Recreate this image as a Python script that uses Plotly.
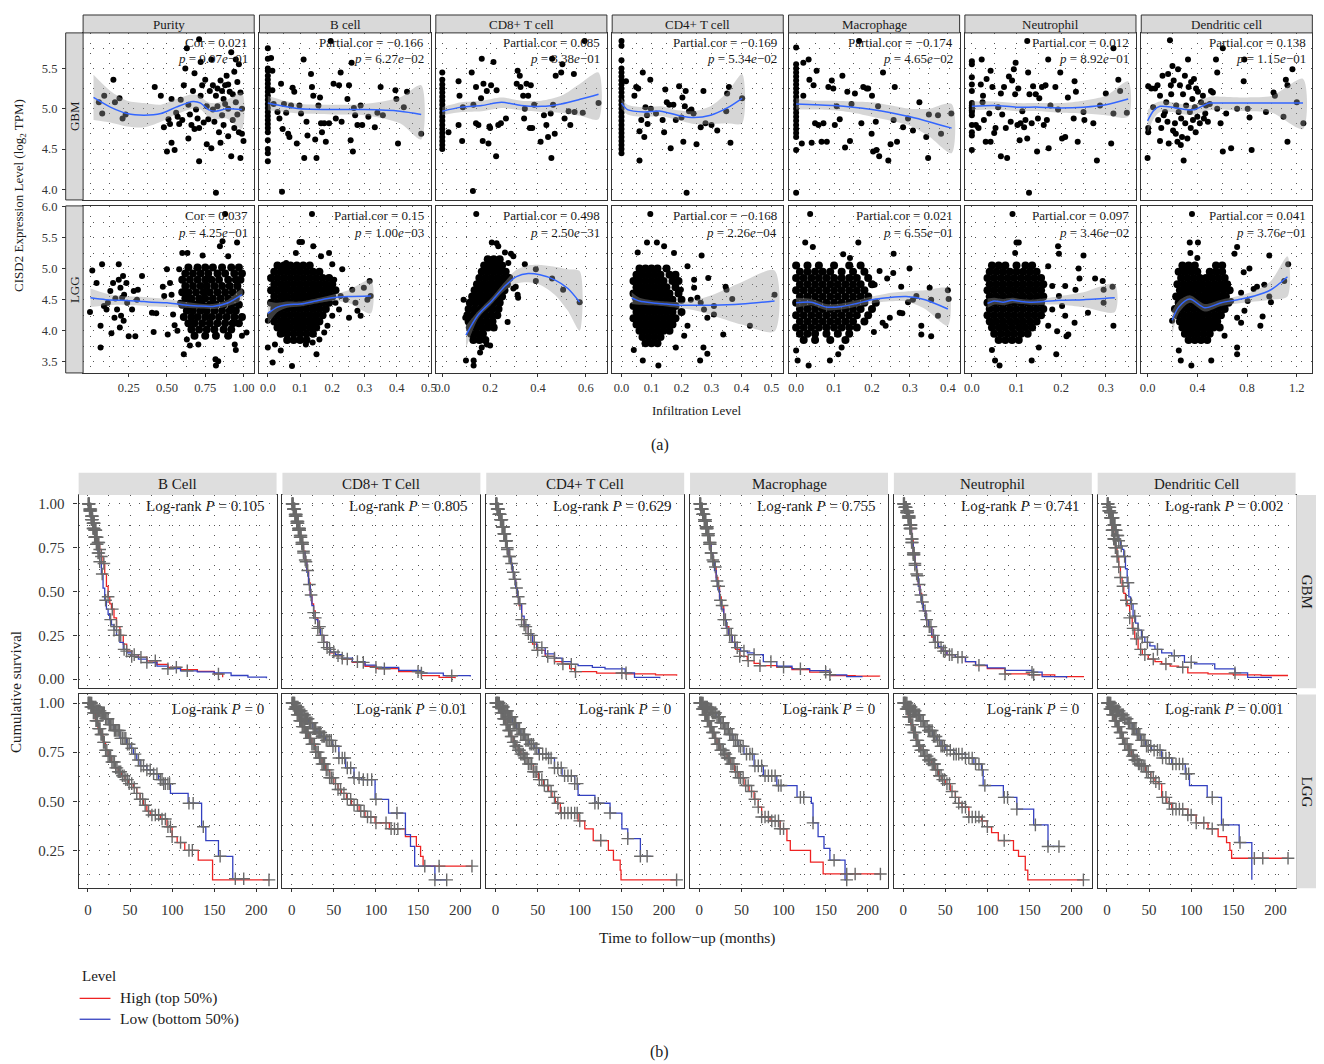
import plotly.graph_objects as go

# The page body adds an 8px margin; the figure is drawn 8px smaller and every
# reference pixel position is shifted by OFF so the picture lines up with the window.
OFF = 8
W, H = 1316, 1056
FONT = "Liberation Serif, DejaVu Serif, Times New Roman, serif"
INK = "#1a1a1a"
TICK = "#333333"
FRAME = "#333333"
GRID = "#555555"
DASH = "1px,9px"

# ---------------- (a) correlation scatter panels ----------------
cell_cols = ["Purity", "B cell", "CD8+ T cell", "CD4+ T cell", "Macrophage", "Neutrophil", "Dendritic cell"]
gbm_cor = ["Cor = 0.021", "Partial.cor = −0.166", "Partial.cor = 0.085", "Partial.cor = −0.169",
           "Partial.cor = −0.174", "Partial.cor = 0.012", "Partial.cor = 0.138"]
gbm_p = ["9.07e−01", "6.27e−02", "3.38e−01", "5.34e−02", "4.65e−02", "8.92e−01", "1.15e−01"]
lgg_cor = ["Cor = 0.037", "Partial.cor = 0.15", "Partial.cor = 0.498", "Partial.cor = −0.168",
           "Partial.cor = 0.021", "Partial.cor = 0.097", "Partial.cor = 0.041"]
lgg_p = ["4.25e−01", "1.00e−03", "2.50e−31", "2.26e−04", "6.55e−01", "3.46e−02", "3.76e−01"]

col_xrange = [[-0.048, 1.07], [-0.026, 0.505], [-0.027, 0.688], [-0.031, 0.539],
              [-0.02, 0.431], [-0.0156, 0.3675], [-0.051, 1.325]]
col_xticks = [[0.25, 0.5, 0.75, 1.0], [0, 0.1, 0.2, 0.3, 0.4, 0.5], [0, 0.2, 0.4, 0.6],
              [0, 0.1, 0.2, 0.3, 0.4, 0.5], [0, 0.1, 0.2, 0.3, 0.4], [0, 0.1, 0.2, 0.3], [0, 0.4, 0.8, 1.2]]
col_xlabels = [["0.25", "0.50", "0.75", "1.00"], ["0.0", "0.1", "0.2", "0.3", "0.4", "0.5"],
               ["0.0", "0.2", "0.4", "0.6"], ["0.0", "0.1", "0.2", "0.3", "0.4", "0.5"],
               ["0.0", "0.1", "0.2", "0.3", "0.4"], ["0.0", "0.1", "0.2", "0.3"], ["0.0", "0.4", "0.8", "1.2"]]
col_xminor = [[0.0, 0.125, 0.375, 0.625, 0.875], [0.05, 0.15, 0.25, 0.35, 0.45], [0.1, 0.3, 0.5],
              [0.05, 0.15, 0.25, 0.35, 0.45], [0.05, 0.15, 0.25, 0.35], [0.05, 0.15, 0.25, 0.35],
              [0.2, 0.6, 1.0]]
gbm_yticks = [4.0, 4.5, 5.0, 5.5]
gbm_ylabels = ["4.0", "4.5", "5.0", "5.5"]
gbm_yminor = [4.25, 4.75, 5.25, 5.75]
lgg_yticks = [3.5, 4.0, 4.5, 5.0, 5.5, 6.0]
lgg_ylabels = ["3.5", "4.0", "4.5", "5.0", "5.5", "6.0"]
lgg_yminor = [3.75, 4.25, 4.75, 5.25, 5.75]

# GBM points (infiltration, expression)
gbm_purity_pts = [(0.055,5.08),(0.077,4.94),(0.09,5.16),(0.15,5.36),(0.16,5.08),(0.19,5.13),(0.21,4.88),(0.23,4.93),
    (0.42,5.27),(0.46,5.16),(0.48,4.77),(0.50,4.47),(0.51,4.87),(0.52,4.81),(0.53,4.58),(0.53,5.12),(0.55,4.49),
    (0.56,4.95),(0.57,4.90),(0.59,5.11),(0.58,4.81),(0.61,5.29),(0.62,5.5),(0.63,5.75),(0.64,4.63),(0.65,4.93),
    (0.66,4.80),(0.67,5.22),(0.68,4.75),(0.68,5.44),(0.69,4.99),(0.70,4.88),(0.71,4.35),(0.71,4.76),(0.72,5.16),
    (0.72,5.58),(0.73,5.29),(0.75,5.36),(0.76,4.56),(0.76,5.03),(0.77,4.87),(0.78,5.22),(0.79,5.61),(0.79,4.51),
    (0.80,4.99),(0.80,5.29),(0.81,4.84),(0.82,3.96),(0.82,5.16),(0.83,5.03),(0.84,4.71),(0.85,5.35),(0.85,4.58),
    (0.86,4.92),(0.86,5.22),(0.87,4.80),(0.88,5.06),(0.88,5.29),(0.89,5.41),(0.90,4.66),(0.90,5.0),(0.91,5.21),
    (0.92,4.41),(0.92,5.70),(0.93,4.86),(0.94,5.46),(0.94,4.76),(0.95,5.08),(0.96,5.33),(0.96,4.93),(0.97,5.55),
    (0.97,4.71),(0.98,4.39),(0.98,5.20),(0.99,5.0),(0.99,4.69),(1.0,4.60),(0.71,5.86),(0.95,5.61),(0.74,4.83),
    (0.83,5.25),(0.87,5.12),(0.9,5.3),(0.93,5.18),(0.64,5.05),(0.60,4.86)]
gbm_bcell_pts = [(0,5.75),(0,5.62),(0,5.5),(0,5.47),(0,5.41),(0,5.36),(0,5.31),(0,5.26),(0,5.21),(0,5.16),(0,5.11),
    (0,5.06),(0,5.01),(0,4.96),(0,4.91),(0,4.86),(0,4.81),(0,4.76),(0,4.71),(0,4.61),(0,4.5),(0,4.45),(0,4.35),
    (0.01,5.63),(0.014,5.47),(0.014,5.23),(0.018,5.06),(0.03,4.96),(0.036,4.88),(0.044,3.97),(0.046,4.75),(0.041,5.31),
    (0.05,5.06),(0.057,4.95),(0.063,4.69),(0.067,4.65),(0.072,5.04),(0.077,5.26),(0.082,5.21),(0.09,4.57),(0.098,5.04),
    (0.103,4.94),(0.111,5.61),(0.113,4.39),(0.12,4.84),(0.123,4.67),(0.134,5.43),(0.137,5.27),(0.141,5.16),(0.147,4.62),
    (0.151,4.39),(0.157,5.04),(0.162,5.14),(0.165,4.82),(0.168,4.71),(0.175,4.82),(0.18,4.59),(0.19,4.82),(0.195,5.84),
    (0.204,5.31),(0.211,4.88),(0.221,5.29),(0.226,5.45),(0.229,4.84),(0.247,5.12),(0.252,5.29),(0.257,4.61),(0.26,5.57),
    (0.264,4.47),(0.267,5.01),(0.271,4.92),(0.278,4.8),(0.288,5.04),(0.293,4.8),(0.312,4.9),(0.332,4.77),(0.34,4.95),
    (0.35,5.27),(0.357,4.92),(0.396,5.23),(0.399,5.12),(0.404,4.57),(0.422,5.02),(0.432,5.21),(0.476,4.69)]
gbm_cd8_pts = [(0,5.45),(0,5.36),(0,5.3),(0,5.25),(0,5.2),(0,5.15),(0,5.1),(0,5.05),(0,5.0),(0,4.95),(0,4.9),(0,4.85),
    (0,4.8),(0,4.75),(0,4.7),(0,4.65),(0,4.6),(0,4.55),(0,4.5),
    (0.026,4.71),(0.068,5.34),(0.072,5.16),(0.068,4.8),(0.083,4.6),(0.086,5.02),(0.123,5.45),(0.128,3.98),(0.13,5.05),
    (0.141,5.27),(0.141,4.82),(0.151,4.8),(0.162,5.13),(0.165,5.62),(0.169,4.6),(0.172,5.31),(0.186,5.22),(0.193,4.57),
    (0.197,4.78),(0.2,4.76),(0.204,5.29),(0.214,5.58),(0.225,4.41),(0.227,5.23),(0.234,4.8),(0.245,4.82),(0.266,4.88),
    (0.311,5.31),(0.315,5.47),(0.324,5.41),(0.327,5.27),(0.338,5.16),(0.342,4.88),(0.345,5.0),(0.352,5.31),(0.359,5.16),
    (0.366,4.76),(0.37,5.29),(0.376,4.76),(0.384,5.05),(0.411,4.59),(0.425,4.92),(0.435,4.8),(0.442,4.65),(0.453,4.94),
    (0.456,4.39),(0.459,5.62),(0.463,5.05),(0.47,4.69),(0.474,5.41),(0.497,5.45),(0.502,5.55),(0.511,4.88),(0.528,4.97),
    (0.535,4.8),(0.55,5.43),(0.553,4.96),(0.587,4.95),(0.595,5.84),(0.653,5.07)]
gbm_cd4_pts = [(0,5.84),(0,5.78),(0,5.6),(0,5.5),(0,5.45),(0,5.4),(0,5.35),(0,5.3),(0,5.25),(0,5.2),(0,5.15),(0,5.1),
    (0,5.05),(0,5.0),(0,4.95),(0,4.9),(0,4.85),(0,4.8),(0,4.75),(0,4.7),(0,4.65),(0,4.6),(0,4.55),(0,4.5),(0,4.45),
    (0.015,5.34),(0.043,5.16),(0.049,5.27),(0.056,5.25),(0.06,4.72),(0.06,4.36),(0.066,4.86),(0.071,5.45),(0.076,4.65),
    (0.08,5.02),(0.085,4.92),(0.087,4.81),(0.096,5.36),(0.098,5.0),(0.115,4.94),(0.137,4.86),(0.142,4.71),(0.146,5.24),
    (0.151,5.08),(0.159,5.05),(0.164,4.51),(0.173,5.05),(0.181,4.86),(0.192,5.28),(0.2,4.89),(0.203,5.14),(0.206,4.59),
    (0.211,5.03),(0.214,5.22),(0.217,3.96),(0.225,4.97),(0.233,4.99),(0.24,4.94),(0.25,4.56),(0.264,4.77),(0.273,5.22),
    (0.28,4.82),(0.3,4.8),(0.319,4.73),(0.349,4.97),(0.352,5.19),(0.358,5.27),(0.363,4.58),(0.402,5.13)]
gbm_macro_pts = [(0,5.76),(0,5.55),(0,5.5),(0,5.45),(0,5.4),(0,5.35),(0,5.3),(0,5.25),(0,5.2),(0,5.15),(0,5.1),(0,5.05),
    (0,5.0),(0,4.95),(0,4.9),(0,4.85),(0,4.8),(0,4.75),(0,4.7),(0,4.65),(0,4.49),(0,3.96),
    (0.019,5.57),(0.033,5.61),(0.035,5.36),(0.019,5.16),(0.015,4.57),(0.046,5.29),(0.05,4.82),(0.054,5.47),(0.041,4.58),
    (0.059,4.80),(0.067,4.59),(0.072,4.82),(0.081,4.59),(0.085,5.27),(0.094,5.35),(0.098,5.25),(0.102,4.80),(0.107,5.03),
    (0.115,4.87),(0.122,5.41),(0.129,4.52),(0.135,5.21),(0.142,4.6),(0.146,5.06),(0.155,5.19),(0.166,5.84),(0.172,4.82),
    (0.177,5.27),(0.186,5.25),(0.203,4.47),(0.199,4.69),(0.19,5.25),(0.2,5.16),(0.216,5.03),(0.21,4.84),(0.229,5.45),
    (0.212,4.49),(0.219,4.41),(0.243,4.36),(0.249,4.56),(0.257,4.86),(0.26,5.27),(0.266,4.59),(0.282,4.77),(0.295,4.88),
    (0.308,4.73),(0.325,5.08),(0.343,4.65),(0.348,4.39),(0.35,4.93),(0.374,4.92),(0.382,4.69),(0.409,4.94)]
gbm_neut_pts = [(0,5.59),(0,5.55),(0,5.39),(0,5.3),(0,5.22),(0,5.04),(0,5.0),(0,4.96),(0,4.92),(0,4.8),(0,4.71),(0,4.67),(0,4.49),
    (0,5.07),(0,5.02),(0,4.98),
    (0.009,4.8),(0.015,4.76),(0.02,5.3),(0.022,5.61),(0.024,5.08),(0.025,5.16),(0.027,4.86),(0.031,4.59),(0.033,5.37),
    (0.039,4.94),(0.042,4.59),(0.042,5.47),(0.046,5.27),(0.05,4.7),(0.053,4.76),(0.059,5.02),(0.065,4.41),(0.065,5.19),
    (0.068,4.93),(0.072,5.27),(0.076,4.76),(0.079,4.39),(0.083,5.4),(0.087,4.84),(0.09,5.35),(0.094,5.49),(0.097,5.18),
    (0.098,5.57),(0.102,4.8),(0.104,5.25),(0.107,4.61),(0.109,4.82),(0.113,4.97),(0.117,4.77),(0.12,4.86),(0.124,4.63),
    (0.126,5.45),(0.128,3.96),(0.129,5.18),(0.134,4.82),(0.137,5.28),(0.143,5.18),(0.146,4.47),(0.148,4.88),(0.151,5.13),
    (0.157,5.27),(0.161,4.8),(0.165,5.29),(0.168,4.86),(0.171,5.61),(0.172,4.51),(0.176,5.04),(0.187,5.27),(0.193,4.99),
    (0.198,5.45),(0.202,4.63),(0.209,4.65),(0.215,5.14),(0.228,4.88),(0.23,5.34),(0.233,5.21),(0.237,4.59),(0.25,4.96),
    (0.252,4.86),(0.272,4.82),(0.28,4.36),(0.287,5.04),(0.3,5.19),(0.312,4.57),(0.317,5.75),(0.317,4.94),(0.328,5.36),
    (0.332,5.22),(0.347,4.95),(0.124,5.84)]
gbm_dc_pts = [(0,4.39),(0.005,4.71),(0.005,4.76),(0.005,5.28),(0.03,5.25),(0.045,5.02),(0.06,5.25),(0.08,5.29),(0.085,4.86),
    (0.1,4.6),(0.1,5.16),(0.11,4.76),(0.12,5.41),(0.13,4.92),(0.14,4.96),(0.15,5.08),(0.16,4.84),(0.165,5.43),(0.17,4.57),
    (0.18,5.85),(0.187,5.29),(0.19,5.18),(0.2,5.53),(0.205,4.73),(0.21,5.35),(0.22,4.82),(0.227,4.69),(0.23,5.04),
    (0.24,4.59),(0.245,5.49),(0.25,4.96),(0.26,5.29),(0.267,4.55),(0.27,4.88),(0.277,4.65),(0.285,5.18),(0.29,4.36),
    (0.3,5.41),(0.303,4.82),(0.31,5.04),(0.32,4.63),(0.325,5.61),(0.33,5.27),(0.34,4.96),(0.347,4.76),(0.35,5.33),
    (0.36,5.12),(0.365,4.86),(0.373,5.37),(0.38,5.02),(0.387,4.71),(0.39,5.25),(0.4,4.9),(0.405,5.21),(0.42,4.82),
    (0.43,5.08),(0.445,5.16),(0.453,4.88),(0.464,4.94),(0.47,5.04),(0.485,4.84),(0.5,5.06),(0.51,5.22),(0.525,5.2),
    (0.55,5.61),(0.56,5.45),(0.56,5.0),(0.587,4.82),(0.605,5.75),(0.605,4.47),(0.632,4.94),(0.672,4.51),(0.72,5.0),
    (0.773,5.34),(0.805,5.0),(0.82,4.89),(0.837,4.49),(0.952,4.96),(1.013,5.2),(1.024,5.16),(1.093,4.9),(1.112,5.36),
    (1.125,5.29),(1.125,4.59),(1.165,5.49),(1.2,5.08),(1.253,4.82),(0.778,5.61)]

# loess fits: (x, fit, lower, upper)
gbm_purity_fit = [(0.02,5.14,4.86,5.42),(0.13,5.02,4.83,5.22),(0.24,4.94,4.78,5.1),(0.35,4.92,4.77,5.07),(0.46,4.94,4.84,5.05),
    (0.56,5.02,4.93,5.12),(0.67,5.09,5.0,5.18),(0.72,5.07,4.99,5.15),(0.77,4.99,4.9,5.08),(0.82,4.97,4.87,5.07),
    (0.89,5.0,4.88,5.11),(0.99,4.99,4.75,5.2)]
gbm_bcell_fit = [(0,5.07,4.98,5.16),(0.05,5.03,4.96,5.1),(0.1,5.0,4.94,5.06),(0.2,4.99,4.93,5.05),(0.3,4.99,4.92,5.06),
    (0.41,4.97,4.82,5.14),(0.476,4.93,4.62,5.29)]
gbm_cd8_fit = [(0,4.97,4.92,5.02),(0.08,5.02,4.96,5.08),(0.165,5.04,4.97,5.1),(0.248,5.08,5.01,5.14),(0.33,5.04,4.98,5.1),
    (0.414,5.03,4.96,5.1),(0.497,5.06,4.95,5.16),(0.58,5.12,4.91,5.32),(0.653,5.18,4.87,5.45)]
gbm_cd4_fit = [(0,5.07,5.0,5.13),(0.02,4.99,4.93,5.05),(0.076,4.96,4.9,5.02),(0.131,4.97,4.91,5.03),(0.187,4.92,4.86,4.98),
    (0.242,4.89,4.81,4.97),(0.297,4.92,4.81,5.03),(0.352,5.01,4.82,5.2),(0.402,5.13,4.82,5.43)]
gbm_macro_fit = [(0,5.06,4.99,5.13),(0.05,5.05,4.99,5.1),(0.1,5.04,4.98,5.1),(0.15,5.02,4.95,5.09),(0.2,4.99,4.9,5.08),
    (0.25,4.95,4.85,5.04),(0.3,4.9,4.79,5.0),(0.35,4.84,4.66,5.0),(0.41,4.76,4.45,5.06)]
gbm_neut_fit = [(0,5.03,4.98,5.09),(0.05,5.04,4.99,5.09),(0.1,5.02,4.97,5.07),(0.15,5.02,4.97,5.07),(0.2,5.01,4.95,5.07),
    (0.25,5.02,4.94,5.1),(0.3,5.05,4.92,5.16),(0.35,5.12,4.9,5.34)]
gbm_dc_fit = [(0,4.85,4.7,4.98),(0.05,4.98,4.88,5.06),(0.1,5.03,4.96,5.09),(0.2,5.02,4.96,5.08),(0.3,4.99,4.93,5.05),
    (0.38,4.99,4.93,5.05),(0.45,5.04,4.96,5.12),(0.5,5.07,4.98,5.15),(0.6,5.07,4.99,5.15),(0.8,5.07,4.97,5.14),
    (1.0,5.07,4.95,5.16),(1.25,5.07,4.75,5.37)]

# LGG points: sparse outer points plus dense core rows (expression, [infiltration values])
lgg_purity_sparse = [(-0.003,4.30),(0.012,4.97),(0.04,4.77),(0.066,4.08),(0.076,5.07),(0.066,3.73),(0.088,4.40),(0.105,4.34),
    (0.114,4.45),(0.13,4.64),(0.137,3.96),(0.148,4.77),(0.157,4.21),(0.163,4.52),(0.174,4.34),(0.185,5.07),(0.185,4.82),
    (0.192,4.05),(0.196,4.69),(0.2,4.24),(0.207,4.53),(0.213,4.88),(0.217,4.16),(0.22,4.58),(0.235,4.77),(0.24,4.45),
    (0.25,3.91),(0.272,4.34),(0.283,4.64),(0.293,3.91),(0.304,4.5),(0.31,4.66),(0.337,4.88),(0.402,4.29),(0.413,3.98),
    (0.43,4.28),(0.473,4.71),(0.482,4.56),(0.5,4.99),(0.505,3.94),(0.52,4.77),(0.53,4.58),(0.54,4.26),(0.55,4.09),
    (0.568,4.0),(0.58,4.99),(0.586,4.45),(0.6,5.25),(0.61,3.62),(0.634,5.25),(0.733,5.21),(0.863,5.44),(0.846,5.36),
    (0.958,5.42),(0.9,5.2),(0.817,3.54),(0.835,3.51),(0.82,3.44),(0.943,3.78),(0.95,3.69),(1.02,3.97),(0.99,3.92),
    (0.705,3.78),(0.65,3.76),(0.63,3.86),(0.88,5.88)]
lgg_purity_rows = [(5.02,[0.64,0.70,0.75,0.80,0.86,0.92,0.97]),(4.92,[0.62,0.67,0.72,0.77,0.83,0.88,0.94,0.99]),
    (4.82,[0.60,0.65,0.70,0.75,0.79,0.84,0.90,0.95,0.98]),(4.72,[0.62,0.67,0.72,0.76,0.81,0.86,0.91,0.96]),
    (4.62,[0.60,0.64,0.69,0.74,0.78,0.83,0.88,0.93,0.98]),(4.52,[0.62,0.66,0.71,0.75,0.80,0.85,0.90,0.95]),
    (4.42,[0.60,0.65,0.69,0.73,0.78,0.82,0.87,0.92,0.97]),(4.32,[0.63,0.67,0.72,0.76,0.81,0.86,0.91,0.95]),
    (4.22,[0.61,0.66,0.70,0.75,0.79,0.84,0.89,0.94,0.99]),(4.12,[0.64,0.68,0.73,0.78,0.83,0.88,0.93,0.97]),
    (4.02,[0.66,0.71,0.76,0.81,0.87,0.92]),(3.92,[0.68,0.75,0.82,0.90])]
lgg_bcell_sparse = [(0,3.73),(0,4.16),(0.015,3.49),(0.022,3.78),(0.04,3.68),(0.075,3.43),(0.057,5.09),(0.087,5.25),(0.098,5.43),
    (0.106,5.43),(0.137,5.88),(0.141,5.36),(0.151,3.62),(0.165,5.2),(0.19,5.25),(0.2,5.07),(0.21,4.45),(0.231,4.99),
    (0.226,4.56),(0.242,4.5),(0.221,4.34),(0.252,4.21),(0.262,4.66),(0.272,4.45),(0.278,4.32),(0.288,4.24),(0.298,4.69),
    (0.309,4.5),(0.316,4.8),(0.319,4.56),(0.2,4.24),(0.185,4.08),(0.175,3.97),(0.16,3.86),(0.139,3.81),(0.118,3.78),(0.206,4.82)]
lgg_bcell_rows = [(5.05,[0.03,0.05,0.07,0.09,0.11,0.13]),(4.95,[0.02,0.04,0.06,0.08,0.10,0.12,0.14,0.16]),
    (4.85,[0.01,0.03,0.05,0.07,0.09,0.11,0.13,0.15,0.17,0.19]),(4.75,[0.02,0.04,0.06,0.08,0.10,0.12,0.14,0.16,0.18,0.2]),
    (4.65,[0.01,0.03,0.05,0.07,0.09,0.11,0.13,0.15,0.17,0.19,0.21]),(4.55,[0.02,0.04,0.06,0.08,0.10,0.12,0.14,0.16,0.18,0.2]),
    (4.45,[0.01,0.03,0.05,0.07,0.09,0.11,0.13,0.15,0.17,0.19]),(4.35,[0.02,0.04,0.06,0.08,0.10,0.12,0.14,0.16,0.18]),
    (4.25,[0.01,0.03,0.05,0.07,0.09,0.11,0.13,0.15,0.17]),(4.15,[0.02,0.04,0.06,0.08,0.10,0.12,0.14,0.16]),
    (4.05,[0.03,0.05,0.07,0.09,0.11,0.13,0.15]),(3.95,[0.04,0.06,0.08,0.10,0.12,0.14]),(3.85,[0.06,0.08,0.10,0.12])]
lgg_cd8_sparse = [(0.142,5.88),(0.099,3.52),(0.131,3.44),(0.131,3.52),(0.158,3.65),(0.165,3.73),(0.207,5.42),(0.227,5.41),
    (0.234,5.36),(0.262,5.26),(0.287,5.24),(0.297,5.2),(0.276,5.09),(0.345,5.07),(0.391,4.99),(0.391,4.8),(0.459,4.84),
    (0.505,4.66),(0.574,4.46),(0.307,4.71),(0.297,4.68),(0.315,4.58),(0.317,4.53),(0.273,4.14),(0.089,4.5),(0.096,4.21),
    (0.2,3.76),(0.186,3.78)]
lgg_cd8_rows = [(5.15,[0.19,0.215,0.24]),(5.05,[0.175,0.2,0.225,0.25]),(4.95,[0.165,0.19,0.215,0.24,0.265]),
    (4.85,[0.155,0.18,0.205,0.23,0.255,0.28]),(4.75,[0.145,0.17,0.195,0.22,0.245,0.27]),
    (4.65,[0.135,0.16,0.185,0.21,0.235,0.26]),(4.55,[0.125,0.15,0.175,0.2,0.225,0.25]),
    (4.45,[0.115,0.14,0.165,0.19,0.215,0.24]),(4.35,[0.11,0.135,0.16,0.185,0.21,0.235]),
    (4.25,[0.105,0.13,0.155,0.18,0.205,0.23]),(4.15,[0.11,0.135,0.16,0.185,0.21]),(4.05,[0.115,0.14,0.165,0.19,0.215]),
    (3.95,[0.12,0.145,0.17]),(3.85,[0.13,0.155,0.18])]
lgg_cd4_sparse = [(0.096,5.88),(0.085,5.42),(0.118,5.42),(0.054,5.26),(0.142,5.36),(0.175,5.25),(0.267,5.21),(0.22,5.04),
    (0.242,4.82),(0.289,4.85),(0.347,4.71),(0.35,4.66),(0.369,4.51),(0.51,4.58),(0.428,4.08),(0.339,3.94),(0.308,4.26),
    (0.275,4.34),(0.286,4.21),(0.273,3.73),(0.286,3.63),(0.262,3.52),(0.181,3.73),(0.123,3.44),(0.071,3.52),(0.041,3.69),
    (0.242,4.69),(0.253,4.53),(0.264,4.45),(0.308,4.4),(0.22,4.08),(0.209,3.92),(0.231,4.5),(0.198,4.66)]
lgg_cd4_rows = [(5.0,[0.06,0.08,0.10,0.12,0.15]),(4.9,[0.05,0.07,0.09,0.11,0.13,0.16,0.18]),
    (4.8,[0.04,0.06,0.08,0.10,0.12,0.14,0.17,0.19]),(4.7,[0.05,0.07,0.09,0.11,0.13,0.15,0.18]),
    (4.6,[0.04,0.06,0.08,0.10,0.12,0.14,0.16,0.19]),(4.5,[0.05,0.07,0.09,0.11,0.13,0.15,0.17,0.2]),
    (4.4,[0.04,0.06,0.08,0.10,0.12,0.14,0.16,0.18]),(4.3,[0.05,0.07,0.09,0.11,0.13,0.15,0.17,0.2]),
    (4.2,[0.04,0.06,0.08,0.10,0.12,0.14,0.16,0.18]),(4.1,[0.05,0.07,0.09,0.11,0.13,0.15,0.17]),
    (4.0,[0.06,0.08,0.10,0.12,0.14,0.16]),(3.9,[0.07,0.09,0.11,0.13]),(3.8,[0.08,0.10,0.12])]
lgg_macro_sparse = [(0.037,5.88),(0.024,5.42),(0.044,5.35),(0.164,5.42),(0.124,5.23),(0.142,5.17),(0,3.68),(0.004,3.52),
    (0.033,3.44),(0.089,3.52),(0.111,3.62),(0.12,3.73),(0.257,5.24),(0.299,5.0),(0.22,4.96),(0.207,4.74),(0.277,4.71),
    (0.256,4.93),(0.24,4.84),(0.352,4.69),(0.4,4.65),(0.402,4.51),(0.356,4.5),(0.374,4.24),(0.33,4.08),(0.33,3.94),
    (0.356,3.91),(0.273,4.29),(0.28,4.28),(0.295,4.46),(0.228,4.13),(0.236,4.08),(0.247,4.21),(0.205,3.98),(0.308,4.5),(0.317,4.56)]
lgg_macro_rows = [(5.05,[0.0,0.03,0.06,0.1,0.14,0.17]),(4.95,[0.01,0.03,0.05,0.07,0.09,0.12,0.15,0.18]),
    (4.85,[0.0,0.02,0.04,0.06,0.08,0.1,0.12,0.14,0.16,0.19]),(4.75,[0.01,0.03,0.05,0.07,0.09,0.11,0.13,0.15,0.17,0.2]),
    (4.65,[0.0,0.02,0.04,0.06,0.08,0.1,0.12,0.14,0.16,0.18]),(4.55,[0.01,0.03,0.05,0.07,0.09,0.11,0.13,0.15,0.17,0.19]),
    (4.45,[0.0,0.02,0.04,0.06,0.08,0.1,0.12,0.14,0.16,0.18,0.21]),(4.35,[0.01,0.03,0.05,0.07,0.09,0.11,0.13,0.15,0.17,0.2]),
    (4.25,[0.0,0.02,0.04,0.06,0.08,0.1,0.12,0.14,0.16,0.19]),(4.15,[0.01,0.03,0.05,0.07,0.09,0.11,0.13,0.15,0.18]),
    (4.05,[0.0,0.02,0.04,0.06,0.08,0.1,0.12,0.14,0.16]),(3.95,[0.01,0.03,0.05,0.08,0.11,0.14]),(3.85,[0.02,0.05,0.09,0.13])]
lgg_neut_sparse = [(0.091,5.88),(0.1,5.42),(0.105,5.42),(0.097,5.25),(0.193,5.36),(0.195,5.24),(0.25,5.21),(0.171,5.04),
    (0.239,5.0),(0.241,4.84),(0.276,4.84),(0.293,4.8),(0.315,4.71),(0.295,4.66),(0.295,4.45),(0.26,4.29),(0.23,4.13),
    (0.216,3.94),(0.212,3.91),(0.189,3.62),(0.15,3.73),(0.134,3.52),(0.062,3.44),(0.052,3.52),(0.045,3.69),(0.317,4.08),
    (0.209,4.24),(0.202,4.4),(0.195,4.56),(0.18,4.72),(0.209,4.72),(0.232,4.66),(0.18,4.34),(0.191,3.99),(0.171,4.08)]
lgg_neut_rows = [(5.05,[0.045,0.06,0.075,0.1,0.12,0.135]),(4.95,[0.04,0.055,0.07,0.085,0.1,0.115,0.13,0.145]),
    (4.85,[0.035,0.05,0.065,0.08,0.095,0.11,0.125,0.14,0.155]),(4.75,[0.04,0.055,0.07,0.085,0.1,0.115,0.13,0.145,0.16]),
    (4.65,[0.035,0.05,0.065,0.08,0.095,0.11,0.125,0.14,0.155]),(4.55,[0.04,0.055,0.07,0.085,0.1,0.115,0.13,0.145,0.16]),
    (4.45,[0.035,0.05,0.065,0.08,0.095,0.11,0.125,0.14,0.155]),(4.35,[0.04,0.055,0.07,0.085,0.1,0.115,0.13,0.145,0.16]),
    (4.25,[0.035,0.05,0.065,0.08,0.095,0.11,0.125,0.14,0.155]),(4.15,[0.04,0.055,0.07,0.085,0.1,0.115,0.13,0.145]),
    (4.05,[0.045,0.06,0.075,0.09,0.105,0.12,0.135]),(3.95,[0.05,0.065,0.08,0.095,0.11,0.125]),(3.85,[0.06,0.075,0.09,0.105])]
lgg_dc_sparse = [(0.357,5.88),(0.339,5.42),(0.405,5.42),(0.344,5.25),(0.4,5.17),(0.699,5.24),(0.72,5.35),(0.979,5.21),
    (1.131,5.07),(0.819,5.0),(0.773,4.94),(0.853,4.67),(0.88,4.71),(0.979,4.55),(0.992,4.46),(1.099,4.8),(0.939,4.74),
    (0.925,4.23),(0.907,4.08),(0.779,4.32),(0.72,4.21),(0.752,4.13),(0.72,3.73),(0.72,3.62),(0.512,3.52),(0.352,3.44),
    (0.267,3.52),(0.251,3.68),(0.197,4.16),(0.752,4.61),(0.672,4.48),(0.805,4.48),(0.619,3.92)]
lgg_dc_rows = [(5.05,[0.28,0.33,0.38,0.55,0.6]),(4.95,[0.25,0.3,0.35,0.4,0.5,0.55,0.6]),
    (4.85,[0.27,0.32,0.37,0.42,0.47,0.52,0.57,0.62]),(4.75,[0.24,0.29,0.34,0.39,0.44,0.49,0.54,0.59,0.64]),
    (4.65,[0.26,0.31,0.36,0.41,0.46,0.51,0.56,0.61,0.66]),(4.55,[0.23,0.28,0.33,0.38,0.43,0.48,0.53,0.58,0.63]),
    (4.45,[0.25,0.3,0.35,0.4,0.45,0.5,0.55,0.6,0.65]),(4.35,[0.22,0.27,0.32,0.37,0.42,0.47,0.52,0.57,0.62]),
    (4.25,[0.24,0.29,0.34,0.39,0.44,0.49,0.54,0.59]),(4.15,[0.26,0.31,0.36,0.41,0.46,0.51,0.56]),
    (4.05,[0.28,0.33,0.38,0.43,0.48,0.53,0.58]),(3.95,[0.3,0.35,0.4,0.45,0.5]),(3.85,[0.33,0.38,0.43,0.48])]

lgg_purity_fit = [(0.0,4.53,4.38,4.68),(0.1,4.5,4.41,4.6),(0.2,4.49,4.42,4.56),(0.3,4.48,4.41,4.55),(0.4,4.46,4.39,4.53),
    (0.5,4.45,4.38,4.51),(0.6,4.42,4.37,4.47),(0.7,4.4,4.36,4.44),(0.8,4.39,4.35,4.43),(0.9,4.45,4.4,4.5),(0.99,4.58,4.5,4.67)]
lgg_bcell_fit = [(0,4.28,4.1,4.47),(0.03,4.38,4.3,4.45),(0.06,4.42,4.37,4.47),(0.1,4.43,4.39,4.47),(0.15,4.48,4.44,4.52),
    (0.2,4.53,4.48,4.58),(0.25,4.55,4.45,4.65),(0.32,4.56,4.28,4.82)]
lgg_cd8_fit = [(0.099,3.93,3.72,4.08),(0.151,4.26,4.2,4.32),(0.207,4.48,4.43,4.54),(0.262,4.72,4.65,4.79),(0.31,4.87,4.76,4.98),
    (0.359,4.92,4.78,5.05),(0.408,4.9,4.74,5.06),(0.47,4.82,4.58,5.03),(0.525,4.68,4.32,4.99),(0.574,4.46,4.0,4.96)]
lgg_cd4_fit = [(0.034,4.53,4.43,4.62),(0.06,4.48,4.42,4.53),(0.1,4.45,4.41,4.49),(0.15,4.43,4.39,4.47),(0.2,4.41,4.36,4.46),
    (0.25,4.41,4.32,4.5),(0.3,4.41,4.25,4.57),(0.4,4.43,4.1,4.78),(0.51,4.48,3.99,4.97)]
lgg_macro_fit = [(0,4.45,4.37,4.53),(0.04,4.46,4.41,4.51),(0.08,4.38,4.33,4.43),(0.12,4.39,4.34,4.44),(0.16,4.44,4.39,4.49),
    (0.2,4.5,4.44,4.55),(0.24,4.53,4.47,4.6),(0.29,4.55,4.47,4.63),(0.34,4.5,4.35,4.65),(0.4,4.35,4.08,4.68)]
lgg_neut_fit = [(0.035,4.44,4.37,4.52),(0.05,4.48,4.42,4.53),(0.07,4.46,4.41,4.51),(0.09,4.49,4.44,4.53),(0.11,4.47,4.43,4.51),
    (0.13,4.46,4.42,4.5),(0.16,4.47,4.42,4.52),(0.2,4.49,4.42,4.56),(0.25,4.5,4.38,4.62),(0.32,4.53,4.3,4.75)]
lgg_dc_fit = [(0.197,4.17,3.92,4.32),(0.25,4.38,4.28,4.48),(0.34,4.51,4.45,4.57),(0.459,4.37,4.31,4.43),(0.592,4.45,4.4,4.5),
    (0.725,4.5,4.44,4.56),(0.859,4.56,4.47,4.64),(0.992,4.66,4.5,4.8),(1.125,4.87,4.55,5.2)]

gbm_points = [gbm_purity_pts, gbm_bcell_pts, gbm_cd8_pts, gbm_cd4_pts, gbm_macro_pts, gbm_neut_pts, gbm_dc_pts]
gbm_fits = [gbm_purity_fit, gbm_bcell_fit, gbm_cd8_fit, gbm_cd4_fit, gbm_macro_fit, gbm_neut_fit, gbm_dc_fit]
lgg_sparse = [lgg_purity_sparse, lgg_bcell_sparse, lgg_cd8_sparse, lgg_cd4_sparse, lgg_macro_sparse, lgg_neut_sparse, lgg_dc_sparse]
lgg_rows = [lgg_purity_rows, lgg_bcell_rows, lgg_cd8_rows, lgg_cd4_rows, lgg_macro_rows, lgg_neut_rows, lgg_dc_rows]
lgg_fits = [lgg_purity_fit, lgg_bcell_fit, lgg_cd8_fit, lgg_cd4_fit, lgg_macro_fit, lgg_neut_fit, lgg_dc_fit]

# ---------------- (b) Kaplan-Meier panels ----------------
km_cols = ["B Cell", "CD8+ T Cell", "CD4+ T Cell", "Macrophage", "Neutrophil", "Dendritic Cell"]
gbm_logrank = ["0.105", "0.805", "0.629", "0.755", "0.741", "0.002"]
lgg_logrank = ["0", "0.01", "0", "0", "0", "0.001"]
km_xticks = [0, 50, 100, 150, 200]
km_xminor = [25, 75, 125, 175]
km_gbm_yticks = [0, 0.25, 0.5, 0.75, 1.0]
km_gbm_ylabels = ["0.00", "0.25", "0.50", "0.75", "1.00"]
km_gbm_yminor = [0.125, 0.375, 0.625, 0.875]
km_lgg_yticks = [0.25, 0.5, 0.75, 1.0]
km_lgg_ylabels = ["0.25", "0.50", "0.75", "1.00"]
km_lgg_yminor = [0.125, 0.375, 0.625, 0.875]

# (time in months, survival) step vertices
gbm_b_high = [(0,1),(2,.97),(4,.93),(6,.89),(8,.85),(10,.81),(12,.78),(14,.74),(16,.70),(18,.66),(20,.60),(22,.53),(24,.47),
    (26,.43),(28,.40),(31,.35),(34,.30),(38,.25),(42,.20),(46,.16),(52,.14),(60,.125),(70,.105),(82,.085),(95,.068),
    (110,.055),(130,.045),(150,.03),(160,.011)]
gbm_b_low = [(0,1),(2,.96),(4,.91),(6,.86),(8,.81),(10,.77),(12,.72),(14,.67),(16,.60),(18,.52),(20,.45),(22,.40),(24,.37),
    (26,.34),(28,.31),(31,.28),(34,.25),(38,.21),(42,.17),(46,.15),(52,.13),(60,.115),(70,.095),(82,.075),(95,.06),
    (110,.048),(130,.042),(150,.036),(170,.021),(190,.012),(212,.006)]
gbm_cd8_high = [(0,1),(2,.97),(4,.94),(6,.9),(8,.86),(10,.82),(12,.78),(14,.73),(16,.68),(18,.62),(20,.55),(22,.48),(24,.43),
    (26,.39),(28,.35),(31,.30),(34,.25),(38,.21),(42,.17),(46,.15),(52,.134),(60,.115),(72,.096),(87,.074),(100,.06),
    (127,.043),(154,.02),(175,.01),(194,.005)]
gbm_cd8_low = [(0,1),(2,.97),(4,.93),(6,.89),(8,.85),(10,.81),(12,.77),(14,.72),(16,.67),(18,.61),(20,.54),(22,.47),(24,.42),
    (26,.38),(28,.34),(31,.29),(34,.25),(38,.21),(42,.18),(46,.155),(52,.14),(60,.12),(72,.1),(87,.08),(100,.068),
    (127,.05),(154,.035),(180,.02),(212,.015)]
gbm_cd4_high = [(0,1),(2,.97),(4,.94),(6,.91),(8,.87),(10,.83),(12,.79),(14,.74),(16,.70),(18,.66),(20,.61),(22,.57),(24,.52),
    (26,.47),(28,.42),(31,.34),(34,.30),(39,.25),(44,.2),(49,.165),(59,.13),(70,.1),(79,.087),(88,.06),(94,.043),
    (120,.035),(154,.03),(190,.025),(215,.02)]
gbm_cd4_low = [(0,1),(2,.97),(4,.94),(6,.91),(8,.87),(10,.83),(12,.79),(14,.75),(16,.70),(18,.66),(20,.61),(22,.57),(24,.52),
    (26,.47),(28,.43),(31,.36),(34,.31),(39,.26),(44,.21),(49,.18),(59,.145),(70,.12),(79,.1),(90,.085),(98,.077),
    (115,.068),(130,.059),(154,.036),(165,.011),(195,.006)]
gbm_macro_high = [(0,1),(2,.97),(4,.94),(6,.91),(8,.87),(10,.83),(12,.78),(14,.72),(16,.68),(18,.64),(20,.58),(22,.53),(24,.47),
    (26,.42),(29,.34),(32,.30),(35,.25),(39,.21),(43,.17),(48,.13),(57,.106),(65,.09),(72,.077),(92,.068),(110,.055),
    (131,.04),(155,.02),(185,.017),(214,.015)]
gbm_macro_low = [(0,1),(2,.97),(4,.94),(6,.90),(8,.86),(10,.82),(12,.77),(14,.72),(16,.67),(18,.62),(20,.56),(22,.51),(24,.45),
    (26,.40),(29,.34),(32,.29),(35,.25),(39,.21),(43,.18),(49,.16),(57,.15),(65,.14),(76,.1),(92,.074),(110,.06),
    (131,.049),(155,.025),(175,.015),(193,.011)]
gbm_neut_high = [(0,1),(2,.98),(4,.96),(6,.93),(8,.88),(10,.8),(12,.72),(14,.66),(16,.6),(18,.54),(20,.49),(22,.44),(24,.39),
    (27,.34),(30,.3),(34,.24),(38,.21),(42,.18),(46,.16),(52,.14),(62,.125),(74,.1),(86,.077),(100,.06),(121,.03),
    (150,.025),(180,.015),(214,.011)]
gbm_neut_low = [(0,1),(2,.98),(4,.95),(6,.92),(8,.86),(10,.78),(12,.71),(14,.65),(16,.59),(18,.53),(20,.48),(22,.43),(24,.39),
    (27,.34),(30,.3),(34,.25),(38,.21),(42,.185),(46,.16),(52,.14),(62,.125),(74,.1),(86,.08),(100,.065),(121,.05),
    (153,.04),(165,.015),(194,.006)]
gbm_dc_high = [(0,1),(2,.96),(4,.92),(6,.85),(8,.8),(10,.75),(12,.7),(14,.64),(16,.58),(18,.53),(20,.49),(22,.45),(24,.42),
    (27,.35),(30,.29),(33,.23),(37,.17),(42,.14),(49,.115),(57,.1),(65,.087),(75,.075),(85,.068),(96,.036),(120,.03),
    (150,.025),(183,.021),(215,.021)]
gbm_dc_low = [(0,1),(2,.98),(4,.95),(6,.92),(8,.88),(10,.85),(12,.82),(14,.79),(16,.76),(18,.74),(20,.7),(22,.63),(24,.55),
    (26,.47),(28,.43),(31,.36),(34,.32),(37,.28),(41,.24),(45,.21),(51,.19),(57,.17),(65,.15),(77,.134),(92,.096),
    (104,.087),(128,.059),(152,.036),(167,.011),(195,.006)]

lgg_b_high = [(0,1),(3,.98),(6,.95),(9,.91),(12,.87),(15,.84),(18,.8),(21,.76),(24,.73),(28,.7),(32,.67),(36,.65),(40,.63),
    (44,.61),(48,.59),(54,.57),(58,.54),(62,.51),(66,.48),(70,.45),(74,.43),(86,.41),(94,.37),(100,.32),(106,.29),
    (115,.25),(131,.20),(148,.10),(216,.10)]
lgg_b_low = [(0,1),(5,.98),(10,.96),(15,.95),(20,.92),(25,.89),(31,.86),(38,.82),(46,.79),(50,.77),(54,.74),(58,.71),(62,.68),
    (70,.66),(78,.64),(84,.61),(90,.59),(98,.54),(119,.49),(135,.37),(140,.30),(155,.22),(172,.106),(186,.106)]
lgg_cd8_high = [(0,1),(3,.97),(6,.94),(9,.91),(12,.88),(16,.85),(20,.82),(24,.79),(28,.75),(32,.72),(36,.69),(40,.66),(45,.62),
    (50,.59),(55,.56),(59,.54),(65,.51),(71,.48),(80,.45),(87,.42),(99,.39),(116,.36),(135,.32),(148,.27),(153,.22),
    (156,.17),(214,.17)]
lgg_cd8_low = [(0,1),(4,.98),(8,.96),(12,.94),(16,.92),(20,.9),(25,.87),(30,.85),(35,.83),(40,.81),(48,.78),(56,.72),(64,.67),
    (74,.62),(83,.61),(99,.51),(115,.44),(135,.33),(141,.27),(146,.17),(170,.10),(184,.10)]
lgg_cd4_high = [(0,1),(3,.98),(6,.95),(9,.92),(12,.89),(15,.86),(18,.83),(21,.8),(24,.78),(27,.76),(30,.74),(34,.72),(39,.69),
    (45,.65),(51,.61),(57,.58),(63,.55),(67,.52),(71,.49),(77,.44),(98,.40),(106,.36),(116,.30),(134,.25),(140,.20),
    (148,.15),(149,.10),(215,.10)]
lgg_cd4_low = [(0,1),(5,.98),(10,.96),(15,.93),(20,.9),(25,.87),(30,.84),(35,.81),(40,.79),(46,.77),(51,.74),(63,.72),(70,.67),
    (79,.63),(94,.59),(98,.53),(118,.49),(136,.44),(150,.36),(157,.31),(172,.22),(185,.22)]
lgg_macro_high = [(0,1),(3,.97),(6,.94),(9,.91),(12,.88),(15,.85),(18,.82),(21,.79),(25,.76),(29,.74),(33,.72),(37,.69),(42,.65),
    (47,.62),(53,.58),(59,.55),(65,.51),(70,.47),(74,.42),(84,.40),(96,.36),(104,.30),(108,.25),(132,.19),(147,.13),(216,.13)]
lgg_macro_low = [(0,1),(5,.98),(10,.97),(15,.95),(20,.93),(25,.9),(30,.87),(35,.84),(40,.81),(46,.78),(53,.74),(65,.68),(76,.63),
    (92,.58),(116,.52),(133,.49),(135,.39),(141,.32),(148,.26),(155,.20),(173,.10),(175,.10)]
lgg_neut_high = [(0,1),(3,.97),(6,.93),(9,.89),(12,.85),(15,.81),(18,.78),(21,.76),(25,.73),(30,.71),(34,.69),(38,.66),(42,.63),
    (46,.61),(50,.59),(56,.55),(62,.52),(66,.49),(70,.47),(78,.42),(93,.40),(100,.37),(105,.34),(113,.30),(131,.25),
    (137,.22),(145,.15),(148,.10),(214,.10)]
lgg_neut_low = [(0,1),(5,.98),(10,.96),(15,.94),(20,.91),(25,.88),(30,.86),(35,.83),(40,.81),(45,.78),(50,.76),(60,.74),(74,.72),
    (84,.69),(93,.66),(95,.58),(119,.52),(135,.46),(155,.38),(172,.27),(186,.27)]
lgg_dc_high = [(0,1),(3,.97),(6,.94),(9,.91),(12,.88),(15,.85),(18,.82),(21,.79),(25,.76),(29,.73),(33,.71),(37,.69),(41,.68),
    (46,.65),(52,.62),(57,.6),(61,.59),(65,.52),(71,.49),(77,.46),(96,.43),(106,.39),(120,.36),(132,.32),(142,.29),
    (146,.25),(148,.21),(215,.21)]
lgg_dc_low = [(0,1),(5,.98),(10,.96),(15,.94),(20,.92),(25,.9),(30,.87),(35,.84),(40,.81),(46,.78),(53,.76),(65,.72),(77,.69),
    (93,.64),(98,.58),(119,.52),(136,.38),(157,.29),(172,.10)]

# censoring times (months)
gbm_censor_early = [0.5,1,1.5,2,2.5,3,3.5,4,4.5,5,5.5,6,6.5,7,7.5,8,8.5,9,9.5,10,11,12,13,14]
gbm_censor_high = [[16,19,24,29,34,39,46,55,63,80,105,155],[16,19,23,28,33,38,45,55,66,85,110,150],
    [16,19,23,27,31,36,42,50,62,80,95,150],[16,19,23,27,31,36,42,48,58,72,100,150],
    [16,19,23,28,33,38,45,50,58,65,121,155],[16,19,23,27,31,35,40,45,55,70,90]]
gbm_censor_low = [[17,21,27,31,37,43,52,70,95,118],[17,21,26,31,36,42,50,60,78,100,154,190],
    [17,21,25,29,34,39,46,55,70,90,155],[17,21,25,29,33,38,45,53,65,85,120,155],
    [17,21,26,31,36,41,48,55,70,90,153],[17,21,25,29,33,37,42,48,60,80,100,152]]
lgg_censor_early = [0.5,1.5,2.5,3.5,4.5,5.5,6.5,7.5,8.5,9.5,10.5,11.5,12.5,13.5,14.5,15.5,16.5,17.5,18.5,19.5,21,22.5,
    24,25.5,27,28.5,30,31.5,33,34.5,36,37.5,39,41,43,45,47,49]
lgg_censor_high = [[52,55,58,62,65,68,72,76,80,84,88,92,95,98,100,110,120,124,215],
    [52,55,58,62,66,70,74,78,82,86,90,94,100,112,118,122,126,158,175,214],
    [52,55,58,62,66,70,74,78,82,86,90,94,97,100,125,215],
    [52,55,58,62,66,70,74,78,82,86,90,94,96,100,175,185,215],
    [52,55,58,62,66,70,74,78,82,86,90,94,100,120,214],
    [52,55,58,62,66,70,74,78,82,86,90,96,100,106,115,125,175,185,215]]
lgg_censor_low = [[52,56,60,63,66,70,74,78,82,86,88,90,92,95,97,120,125,137,157,175,185],
    [52,56,60,63,66,70,74,80,85,90,95,100,125,170,184],
    [52,56,60,63,66,70,74,78,82,86,90,94,97,118,122,136,157,172,180],
    [52,56,60,63,66,70,74,78,82,86,90,94,97,120,124,135,160,175],
    [52,56,60,63,66,70,74,78,82,86,90,94,97,120,124,135,157,172,185],
    [52,56,60,63,66,70,74,78,82,86,90,94,97,125,138,158]]

gbm_high = [gbm_b_high, gbm_cd8_high, gbm_cd4_high, gbm_macro_high, gbm_neut_high, gbm_dc_high]
gbm_low = [gbm_b_low, gbm_cd8_low, gbm_cd4_low, gbm_macro_low, gbm_neut_low, gbm_dc_low]
lgg_high = [lgg_b_high, lgg_cd8_high, lgg_cd4_high, lgg_macro_high, lgg_neut_high, lgg_dc_high]
lgg_low = [lgg_b_low, lgg_cd8_low, lgg_cd4_low, lgg_macro_low, lgg_neut_low, lgg_dc_low]

RED = "#ee2222"
BLUE = "#3340c0"
CENSOR = "#6a6a6a"

# ---------------- helpers ----------------
fig = go.Figure()
axes = {}
shapes = []
annos = []
count = [0]
RIGHT_EDGE = OFF + W


def fx(x):
    return min(1.0, max(0.0, (x - OFF) / W))


def fy(y):
    return min(1.0, max(0.0, 1 - (y - OFF) / H))


def add_axes(left, right, top, bottom, xr, yr, xt, xl, xm, yt, yl, ym, showx, showy, fsize,
             xstand=2, ystand=2, yticklen=3):
    # keep the pixel scale if a panel would reach past the drawable right edge
    if right > RIGHT_EDGE:
        xr = [xr[0], xr[0] + (xr[1] - xr[0]) * (RIGHT_EDGE - left) / (right - left)]
        right = RIGHT_EDGE
    count[0] += 1
    n = count[0]
    sfx = "" if n == 1 else str(n)
    common = dict(showgrid=True, gridcolor=GRID, gridwidth=1, griddash=DASH, zeroline=False,
                  showline=True, mirror=True, linecolor=FRAME, linewidth=1.3, tickcolor=FRAME, tickwidth=1,
                  tickfont=dict(family=FONT, size=fsize, color=TICK), fixedrange=True, tickmode="array")
    axes["xaxis" + sfx] = dict(common, domain=[fx(left), fx(right)], range=xr, anchor="y" + sfx,
                               tickvals=xt, ticktext=xl, showticklabels=showx, ticks="outside" if showx else "",
                               ticklen=3, ticklabelstandoff=xstand,
                               minor=dict(tickmode="array", tickvals=xm, showgrid=True, gridcolor=GRID,
                                          gridwidth=1, griddash=DASH, ticks=""))
    axes["yaxis" + sfx] = dict(common, domain=[fy(bottom), fy(top)], range=yr, anchor="x" + sfx,
                               tickvals=yt, ticktext=yl, showticklabels=showy, ticks="outside" if showy else "",
                               ticklen=yticklen, ticklabelstandoff=ystand,
                               minor=dict(tickmode="array", tickvals=ym, showgrid=True, gridcolor=GRID,
                                          gridwidth=1, griddash=DASH, ticks=""))
    return "x" + sfx, "y" + sfx


def rect(x0, y0, x1, y1, fill, line=None):
    shapes.append(dict(type="rect", xref="paper", yref="paper", x0=fx(x0), x1=fx(x1), y0=fy(y1), y1=fy(y0),
                       fillcolor=fill, line=dict(color=line or fill, width=1 if line else 0), layer="above"))


def text(s, x, y, size, xanchor="center", angle=0, color=INK):
    annos.append(dict(text=s, x=fx(x), y=fy(y), xref="paper", yref="paper", showarrow=False, xanchor=xanchor,
                      yanchor="middle", textangle=angle, font=dict(family=FONT, size=size, color=color)))


def ptxt(s):
    mant, ex = s.split("e")
    return "<i>p</i> = " + mant + "<i>e</i>" + ex


def surv_at(curve, t):
    s = curve[0][1]
    for tt, ss in curve:
        if tt <= t:
            s = ss
        else:
            break
    return s


def scatter_panel(xa, ya, pts, fit, core=None):
    fig.add_trace(go.Scatter(x=[p[0] for p in pts], y=[p[1] for p in pts], xaxis=xa, yaxis=ya, mode="markers",
                             marker=dict(color="#000000", size=6, line=dict(width=0)), hoverinfo="skip"))
    if core:
        fig.add_trace(go.Scatter(x=[p[0] for p in core], y=[p[1] for p in core], xaxis=xa, yaxis=ya, mode="markers",
                                 marker=dict(color="#000000", size=8, line=dict(width=0)), hoverinfo="skip"))
    bx = [f[0] for f in fit]
    fig.add_trace(go.Scatter(x=bx + bx[::-1], y=[f[3] for f in fit] + [f[2] for f in fit][::-1], xaxis=xa, yaxis=ya,
                             mode="lines", fill="toself", fillcolor="rgba(153,153,153,0.4)",
                             line=dict(width=0, shape="spline", smoothing=0.8), hoverinfo="skip"))
    fig.add_trace(go.Scatter(x=bx, y=[f[1] for f in fit], xaxis=xa, yaxis=ya, mode="lines",
                             line=dict(color="#3366FF", width=1.5, shape="spline", smoothing=0.8), hoverinfo="skip"))


def km_panel(xa, ya, high, low, c_high, c_low):
    for curve, col in ((high, RED), (low, BLUE)):
        fig.add_trace(go.Scatter(x=[p[0] for p in curve], y=[p[1] for p in curve], xaxis=xa, yaxis=ya, mode="lines",
                                 line=dict(color=col, width=1.3, shape="hv"), hoverinfo="skip"))
    cx, cy = [], []
    for curve, ts in ((high, c_high), (low, c_low)):
        for t in ts:
            if t <= curve[-1][0]:
                cx.append(t)
                cy.append(surv_at(curve, t))
    fig.add_trace(go.Scatter(x=cx, y=cy, xaxis=xa, yaxis=ya, mode="markers", hoverinfo="skip",
                             marker=dict(symbol="cross-thin", size=9, color=CENSOR, line=dict(color=CENSOR, width=1.4))))


# ---------------- build (a) ----------------
a_left0, a_step, a_w = 82.5, 177.3, 172.0
rows_a = [(27.0, 195.0, [3.87, 5.94], gbm_yticks, gbm_ylabels, gbm_yminor),
          (201.0, 369.0, [3.32, 6.01], lgg_yticks, lgg_ylabels, lgg_yminor)]
for r, (top, bot, yr, yt, yl, ym) in enumerate(rows_a):
    for c in range(7):
        left = a_left0 + c * a_step
        right = left + a_w
        xa, ya = add_axes(left, right, top, bot, col_xrange[c], yr, col_xticks[c], col_xlabels[c], col_xminor[c],
                          yt, yl, ym, showx=(r == 1), showy=(c == 0), fsize=12.5, xstand=0, ystand=2, yticklen=20)
        if r == 0:
            scatter_panel(xa, ya, gbm_points[c], gbm_fits[c])
            cor, pv = gbm_cor[c], gbm_p[c]
            y1, y2 = 36.5, 52.5
        else:
            core = []
            for yv, xs in lgg_rows[c]:
                core += [(xv, yv) for xv in xs]
            scatter_panel(xa, ya, lgg_sparse[c], lgg_fits[c], core)
            cor, pv = lgg_cor[c], lgg_p[c]
            y1, y2 = 210.7, 227.3
        tx = min(right, RIGHT_EDGE) - 4.5
        text(cor, tx, y1, 13, xanchor="right")
        text(ptxt(pv), tx, y2, 13, xanchor="right")

for c in range(7):
    left = a_left0 + c * a_step
    right = min(left + a_w, RIGHT_EDGE - 0.5)
    rect(left, 9, right, 27, "#d9d9d9", FRAME)
    text(cell_cols[c], (left + right) / 2, 18.5, 13)
rect(65, 27, 82.5, 195, "#d9d9d9", FRAME)
rect(65, 201, 82.5, 369, "#d9d9d9", FRAME)
text("GBM", 74, 111, 13, angle=-90)
text("LGG", 74, 285, 13, angle=-90)
text("CISD2 Expression Level (log<sub>2</sub> TPM)", 19, 190, 13, angle=-90)
text("Infiltration Level", 700, 407, 13)
text("(a)", 662, 441, 16)

# ---------------- build (b) ----------------
b_left0, b_step, b_w = 78.0, 204.9, 199.0
rows_b = [(491.7, 686.0, [-0.051, 1.051], km_gbm_yticks, km_gbm_ylabels, km_gbm_yminor),
          (692.3, 887.3, [0.057, 1.044], km_lgg_yticks, km_lgg_ylabels, km_lgg_yminor)]
for r, (top, bot, yr, yt, yl, ym) in enumerate(rows_b):
    for c in range(6):
        left = b_left0 + c * b_step
        right = left + b_w
        xa, ya = add_axes(left, right, top, bot, [-11, 224], yr, km_xticks, [str(v) for v in km_xticks], km_xminor,
                          yt, yl, ym, showx=(r == 1), showy=(c == 0), fsize=15, xstand=5, ystand=6, yticklen=4)
        if r == 0:
            km_panel(xa, ya, gbm_high[c], gbm_low[c], gbm_censor_early + gbm_censor_high[c],
                     gbm_censor_early + gbm_censor_low[c])
            text("Log-rank <i>P</i> = " + gbm_logrank[c], right - 11, 503.3, 15, xanchor="right")
        else:
            km_panel(xa, ya, lgg_high[c], lgg_low[c], lgg_censor_early + lgg_censor_high[c],
                     lgg_censor_early + lgg_censor_low[c])
            text("Log-rank <i>P</i> = " + lgg_logrank[c], right - 11, 706.7, 15, xanchor="right")

for c in range(6):
    left = b_left0 + c * b_step
    rect(left, 469.3, left + b_w, 491.7, "#dedede")
    text(km_cols[c], left + b_w / 2, 480.5, 15)
rect(1302, 491.7, RIGHT_EDGE, 686.0, "#dedede")
rect(1302, 692.3, RIGHT_EDGE, 887.3, "#dedede")
text("GBM", 1313, 589, 15, angle=90)
text("LGG", 1313, 790, 15, angle=90)
text("Cumulative survival", 15, 690, 15, angle=-90)
text("Time to follow−up (months)", 690, 937, 15.5)

# legend
text("Level", 79, 975, 15, xanchor="left")
shapes.append(dict(type="line", xref="paper", yref="paper", x0=fx(79), x1=fx(110), y0=fy(998), y1=fy(998),
                   line=dict(color=RED, width=1.3)))
shapes.append(dict(type="line", xref="paper", yref="paper", x0=fx(79), x1=fx(110), y0=fy(1019), y1=fy(1019),
                   line=dict(color=BLUE, width=1.3)))
text("High (top 50%)", 118, 998, 15.5, xanchor="left")
text("Low (bottom 50%)", 118, 1019, 15.5, xanchor="left")
text("(b)", 662, 1052, 16)

fig.update_layout(width=W, height=H, margin=dict(l=0, r=0, t=0, b=0), paper_bgcolor="white",
                  plot_bgcolor="white", showlegend=False, shapes=shapes, annotations=annos, **axes)
fig.write_html("out.html")
